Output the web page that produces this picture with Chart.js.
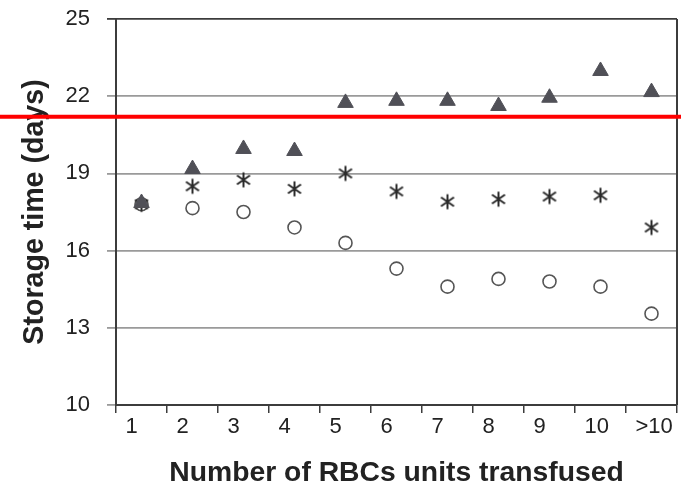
<!DOCTYPE html>
<html>
<head>
<meta charset="utf-8">
<script src="https://cdn.jsdelivr.net/npm/chart.js@4.4.1/dist/chart.umd.min.js"></script>
<style>
  html, body { margin: 0; padding: 0; background: #fff; }
  #wrap { width: 688px; height: 487px; }
</style>
</head>
<body>
<div id="wrap"><canvas id="chart" width="688" height="487"></canvas></div>
<script>
// categories and values
const unitLabels = ['1', '2', '3', '4', '5', '6', '7', '8', '9', '10', '>10'];
const triangleValues = [17.85, 19.17, 19.95, 19.87, 21.74, 21.82, 21.82, 21.62, 21.94, 22.98, 22.16];
const starValues = [17.8, 18.5, 18.75, 18.4, 19.0, 18.3, 17.9, 18.0, 18.1, 18.15, 16.9];
const circleValues = [17.8, 17.65, 17.5, 16.9, 16.3, 15.3, 14.6, 14.9, 14.8, 14.6, 13.55];
const yTicks = [10, 13, 16, 19, 22, 25];
const redLineValue = 21.2;

// asterisk marker (vertical bar + two diagonals)
function makeStar() {
    const c = document.createElement('canvas');
    c.width = 18; c.height = 18;
    const g = c.getContext('2d');
    g.strokeStyle = '#2a2a2a';
    g.lineWidth = 2;
    g.beginPath();
    g.moveTo(9, 1.5); g.lineTo(9, 16.5);
    g.moveTo(2.5, 4.5); g.lineTo(15.5, 13.5);
    g.moveTo(2.5, 13.5); g.lineTo(15.5, 4.5);
    g.stroke();
    return c;
}

const darkLine = '#3c3c3c';
const gridGray = '#9a9a9a';

// red reference line + right frame edge
const extraLines = {
    id: 'extraLines',
    afterDraw(chart) {
        const ctx = chart.ctx;
        const a = chart.chartArea;
        ctx.save();
        ctx.strokeStyle = darkLine;
        ctx.lineWidth = 2;
        ctx.beginPath();
        ctx.moveTo(a.right, a.top);
        ctx.lineTo(a.right, a.bottom);
        ctx.stroke();
        const y = chart.scales.y.getPixelForValue(redLineValue);
        ctx.strokeStyle = '#ff0000';
        ctx.lineWidth = 4;
        ctx.beginPath();
        ctx.moveTo(0, y);
        ctx.lineTo(a.right + 4, y);
        ctx.stroke();
        ctx.restore();
    }
};

const ctx = document.getElementById('chart').getContext('2d');
const storageChart = new Chart(ctx, {
    type: 'line',
    data: {
        labels: unitLabels,
        datasets: [
            {
                label: 'triangles',
                data: triangleValues,
                showLine: false,
                pointStyle: 'triangle',
                pointRadius: 9,
                pointBackgroundColor: '#505057',
                pointBorderColor: '#505057',
                pointBorderWidth: 1
            },
            {
                label: 'stars',
                data: starValues,
                showLine: false,
                pointStyle: makeStar(),
                pointRadius: 8
            },
            {
                label: 'circles',
                data: circleValues,
                showLine: false,
                pointStyle: 'circle',
                pointRadius: 6.5,
                pointBackgroundColor: '#ffffff',
                pointBorderColor: '#555555',
                pointBorderWidth: 1.6
            }
        ]
    },
    options: {
        responsive: false,
        animation: false,
        events: [],
        layout: { padding: { top: 19, right: 11, left: 0, bottom: 0 } },
        plugins: { legend: { display: false }, tooltip: { enabled: false } },
        scales: {
            x: {
                type: 'category',
                offset: true,
                grid: {
                    offset: true,
                    drawOnChartArea: false,
                    drawTicks: true,
                    tickLength: 8,
                    color: darkLine,
                    lineWidth: 1.5
                },
                border: { display: true, color: darkLine, width: 2 },
                ticks: {
                    align: 'start',
                    labelOffset: -16,
                    padding: 1,
                    color: '#222',
                    font: { family: 'Liberation Sans, Arial, sans-serif', size: 22 }
                },
                title: {
                    display: true,
                    text: 'Number of RBCs units transfused',
                    color: '#222',
                    padding: { top: 0, bottom: 0 },
                    font: { family: 'Liberation Sans, Arial, sans-serif', size: 28.3, weight: 'bold', lineHeight: 1 }
                },
                afterFit(scale) {
                    scale.height = 82;
                    scale.paddingLeft = 0;
                    scale.paddingRight = 0;
                }
            },
            y: {
                min: 10,
                max: 25,
                afterBuildTicks(scale) {
                    scale.ticks = yTicks.map(v => ({ value: v }));
                },
                grid: {
                    color: c => (c.tick && c.tick.value === 25) ? darkLine : gridGray,
                    lineWidth: 1.8,
                    tickLength: 9
                },
                border: { display: true, color: darkLine, width: 2 },
                ticks: {
                    padding: 17,
                    color: '#222',
                    font: { family: 'Liberation Sans, Arial, sans-serif', size: 22 }
                },
                title: {
                    display: true,
                    text: 'Storage time (days)',
                    color: '#222',
                    padding: { top: 21, bottom: 0 },
                    font: { family: 'Liberation Sans, Arial, sans-serif', size: 28.6, weight: 'bold', lineHeight: 1 }
                },
                afterFit(scale) {
                    scale.width = 116;
                    scale.paddingTop = 0;
                    scale.paddingBottom = 0;
                }
            }
        }
    },
    plugins: [extraLines]
});
</script>
</body>
</html>
